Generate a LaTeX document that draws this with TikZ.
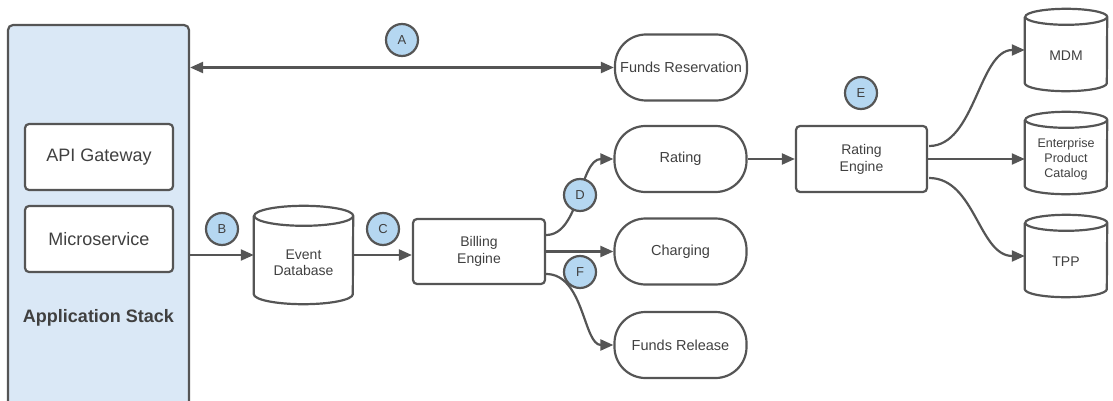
\documentclass[tikz,border=0pt]{standalone}
\usepackage{fontspec}
\setmainfont{Liberation Sans}
\usetikzlibrary{arrows.meta,calc}

\definecolor{edge}{HTML}{555555}
\definecolor{ink}{HTML}{404040}
\definecolor{stackfill}{HTML}{DAE8F6}
\definecolor{badgefill}{HTML}{B5D7F1}

\tikzset{
  base/.style={draw=edge, line width=2.2pt, text=ink, align=center, inner sep=0pt},
  card/.style={base, rounded corners=4pt, fill=white, minimum width=148pt, minimum height=66pt,
               font=\fontsize{18}{21}\selectfont},
  proc/.style={base, rounded corners=4pt, minimum width=132pt, minimum height=65pt,
               font=\fontsize{14}{17}\selectfont},
  pill/.style={base, rounded corners=31pt, minimum width=132pt, minimum height=66pt,
               font=\fontsize{14.5}{17}\selectfont},
  store/.style={inner sep=0pt, minimum width=82pt, minimum height=82pt},
  storetext/.style={text=ink, align=center, font=\fontsize{14}{16.5}\selectfont},
  badge/.style={circle, draw=edge, line width=2.2pt, fill=badgefill, minimum size=32pt,
                inner sep=0pt, text=ink, font=\fontsize{13}{13}\selectfont},
  flow/.style={draw=edge, line width=2.2pt, -{Triangle[length=13pt,width=11pt]}},
  flowboth/.style={draw=edge, line width=2.2pt,
                   {Triangle[length=13pt,width=11pt]}-{Triangle[length=13pt,width=11pt]}},
}

% cylinder outline around a named node: #1 node, #2 half width, #3 ellipse radius
\newcommand\drumshape[3]{%
  \draw[draw=edge, line width=2.2pt]
    ($(#1.north west)+(0,#3)$) -- ($(#1.south west)-(0,#3)$)
    arc[start angle=180, end angle=360, x radius=#2pt, y radius=#3pt]
    -- ($(#1.north east)+(0,#3)$)
    arc[start angle=0, end angle=180, x radius=#2pt, y radius=#3pt]
    arc[start angle=180, end angle=360, x radius=#2pt, y radius=#3pt];
}

\begin{document}
\begin{tikzpicture}[x=1pt, y=-1pt]
  \useasboundingbox (0,0) rectangle (1113,401);

  % application stack column
  \node[base, rounded corners=5pt, fill=stackfill, minimum width=181pt, minimum height=382pt]
    (stack) at (98.5,216) {};
  \node[card] (api) at (99,157) {API Gateway};
  \node[card] (micro) at (99,239) {Microservice};
  \node[text=ink, font=\bfseries\fontsize{18}{21}\selectfont] (stacklabel) at (98.5,318) {Application Stack};

  % event store
  \node[inner sep=0pt, minimum width=99pt, minimum height=98pt,
        label={[storetext, yshift=-8pt]center:Event\\Database}] (evdb) at (303.5,255) {};
  \drumshape{evdb}{49.5}{10}

  % processing
  \node[proc] (billing) at (479,251.5) {Billing\\Engine};
  \node[pill] (res) at (681,67.5) {Funds Reservation};
  \node[pill] (rating) at (680.5,159) {Rating};
  \node[pill] (charging) at (680.5,251.5) {Charging};
  \node[pill] (release) at (680.5,345) {Funds Release};
  \node[proc, minimum width=131pt, minimum height=66pt] (rengine) at (861.5,159) {Rating\\Engine};

  % reference stores
  \node[store, label={[storetext, yshift=-6pt]center:MDM}] (mdm) at (1066,50) {};
  \drumshape{mdm}{41}{8}
  \node[store, label={[storetext, yshift=-6pt, font=\fontsize{12.5}{15}\selectfont]center:Enterprise\\Product\\Catalog}] (epc) at (1066,153) {};
  \drumshape{epc}{41}{8}
  \node[store, label={[storetext, yshift=-6pt]center:TPP}] (tpp) at (1066,256) {};
  \drumshape{tpp}{41}{8}

  % connectors
  \draw[flowboth] (res.west -| stack.east) -- (res.west);
  \draw[flow] (stack.east |- evdb.west) -- (evdb.west);
  \draw[flow] (evdb.east) -- (evdb.east -| billing.west);
  \draw[flow] ($(billing.east)+(0,-16.5)$) .. controls +(34,0) and +(-34,0) .. (rating.west);
  \draw[flow] (billing.east) -- (charging.west);
  \draw[flow] ($(billing.east)+(0,22.5)$) .. controls +(38,0) and +(-30,0) .. (release.west);
  \draw[flow] (rating.east) -- (rengine.west);
  \draw[flow] ($(rengine.east)+(1,-13)$) .. controls +(46,0) and +(-46,0) .. (mdm.west);
  \draw[flow] (rengine.east) -- (rengine.east -| epc.west);
  \draw[flow] ($(rengine.east)+(1,19)$) .. controls +(46,0) and +(-46,0) .. (tpp.west);

  % step badges
  \node[badge] (ba) at (402,40) {A};
  \node[badge] (bb) at (222,229) {B};
  \node[badge] (bc) at (383,229) {C};
  \node[badge] (bd) at (580,195) {D};
  \node[badge] (be) at (861,93) {E};
  \node[badge] (bf) at (580,272) {F};
\end{tikzpicture}
\end{document}
